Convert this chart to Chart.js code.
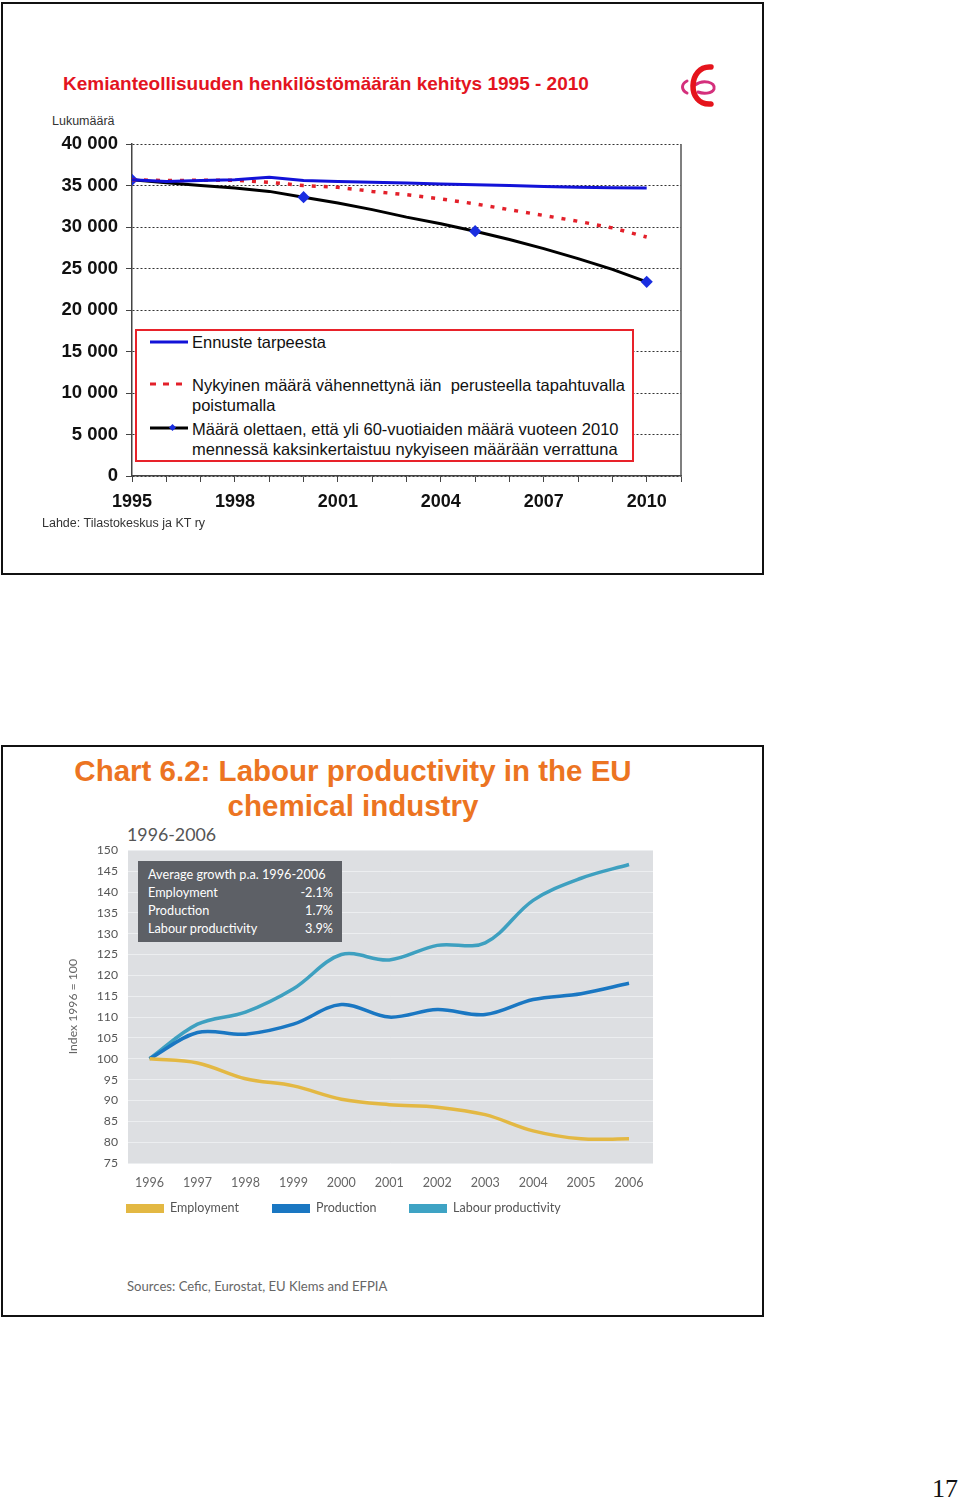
<!DOCTYPE html>
<html>
<head>
<meta charset="utf-8">
<script src="https://cdn.jsdelivr.net/npm/chart.js@4.4.0/dist/chart.umd.min.js"></script>
<style>
body { margin:0; width:960px; height:1501px; background:#fff; position:relative; font-family:"Liberation Sans", Arial, sans-serif; }
.abs { position:absolute; white-space:nowrap; }
.frame { position:absolute; border:2px solid #111; box-sizing:border-box; }
canvas { position:absolute; }
.lato { font-family:Lato, "Open Sans", sans-serif; }
</style>
</head>
<body>

<!-- top slide -->
<div class="frame" style="left:1px;top:2px;width:763px;height:573px;"></div>
<div class="abs" style="left:63px;top:72px;line-height:24px;font-size:19px;font-weight:bold;color:#e3141f;">Kemianteollisuuden henkilöstömäärän kehitys 1995 - 2010</div>
<svg class="abs" style="left:676px;top:62px;" width="46" height="46" viewBox="0 0 46 46">
  <path d="M11 19 C5 22, 5 28, 11 31" fill="none" stroke="#d4307c" stroke-width="3" stroke-linecap="round"/>
  <path d="M19 23 C27 17, 40 20, 38 27 C36 32, 27 32, 22 30" fill="none" stroke="#d4307c" stroke-width="3" stroke-linecap="round"/>
  <path d="M35 5 C12 3, 10 44, 35 42" fill="none" stroke="#e5141c" stroke-width="5.5" stroke-linecap="round"/>
</svg>
<div class="abs" style="left:52px;top:114px;line-height:15px;font-size:12.5px;color:#333;">Lukumäärä</div>
<canvas id="topChart" width="660" height="395" style="left:40px;top:125px;"></canvas>
<div class="abs" style="left:135px;top:329px;width:499px;height:133px;border:2px solid #e8222a;background:#fff;box-sizing:border-box;"></div>
<svg class="abs" style="left:148px;top:330px;" width="44" height="120">
  <line x1="2" y1="12" x2="40" y2="12" stroke="#1212d8" stroke-width="3"/>
  <line x1="2" y1="54" x2="40" y2="54" stroke="#e3202a" stroke-width="3" stroke-dasharray="6,7"/>
  <line x1="2" y1="98" x2="40" y2="98" stroke="#000" stroke-width="3"/>
  <rect x="22" y="95" width="5" height="5" fill="#1a2ee0" transform="rotate(45 24.5 97.5)"/>
</svg>
<div class="abs" style="left:192px;top:332px;line-height:20px;font-size:16.5px;color:#111;">Ennuste tarpeesta</div>
<div class="abs" style="left:192px;top:375px;line-height:20px;font-size:16.5px;color:#111;">Nykyinen määrä vähennettynä iän&nbsp; perusteella tapahtuvalla<br>poistumalla</div>
<div class="abs" style="left:192px;top:419px;line-height:20px;font-size:16.5px;color:#111;">Määrä olettaen, että yli 60-vuotiaiden määrä vuoteen 2010<br>mennessä kaksinkertaistuu nykyiseen määrään verrattuna</div>
<div class="abs" style="left:42px;top:515px;line-height:16px;font-size:12.5px;color:#333;">Lahde: Tilastokeskus ja KT ry</div>

<!-- bottom slide -->
<div class="frame" style="left:1px;top:745px;width:763px;height:572px;"></div>
<div class="abs" style="left:53px;top:753px;width:600px;text-align:center;line-height:35px;font-size:29.5px;font-weight:bold;color:#ec7422;">Chart 6.2: Labour productivity in the EU<br>chemical industry</div>
<div class="abs lato" style="left:127px;top:822px;line-height:24px;font-size:17.8px;color:#555;">1996-2006</div>
<canvas id="bottomChart" width="610" height="367" style="left:60px;top:833px;"></canvas>
<div class="abs lato" style="left:138px;top:861px;width:204px;height:81px;background:#5d6066;color:#fff;font-size:12.7px;line-height:18px;padding:4px 9px 0 10px;box-sizing:border-box;">
  <div>Average growth p.a. 1996-2006</div>
  <div style="display:flex;justify-content:space-between;"><span>Employment</span><span>-2.1%</span></div>
  <div style="display:flex;justify-content:space-between;"><span>Production</span><span>1.7%</span></div>
  <div style="display:flex;justify-content:space-between;"><span>Labour productivity</span><span>3.9%</span></div>
</div>
<div class="abs" style="left:126px;top:1204px;width:38px;height:9px;background:#e3b843;"></div>
<div class="abs lato" style="left:170px;top:1199px;line-height:18px;font-size:12.5px;color:#555;">Employment</div>
<div class="abs" style="left:272px;top:1204px;width:38px;height:9px;background:#1a77c2;"></div>
<div class="abs lato" style="left:316px;top:1199px;line-height:18px;font-size:12.5px;color:#555;">Production</div>
<div class="abs" style="left:409px;top:1204px;width:38px;height:9px;background:#3ea3c4;"></div>
<div class="abs lato" style="left:453px;top:1199px;line-height:18px;font-size:12.5px;color:#555;">Labour productivity</div>
<div class="abs lato" style="left:127px;top:1278px;line-height:16px;font-size:13.1px;color:#666;">Sources: Cefic, Eurostat, EU Klems and EFPIA</div>

<div class="abs" style="left:932px;top:1474px;line-height:30px;font-size:26px;font-family:'Liberation Serif','Times New Roman',serif;color:#111;">17</div>

<script>
// top chart data (Finnish chemical industry personnel)
var topYears = [1995, 1996, 1997, 1998, 1999, 2000, 2001, 2002, 2003, 2004, 2005, 2006, 2007, 2008, 2009, 2010];
var needForecast = [35700, 35500, 35600, 35700, 36000, 35600, 35500, 35400, 35300, 35200, 35100, 35000, 34900, 34800, 34750, 34700];
var ageRetirement = [35700, 35600, 35650, 35650, 35400, 35000, 34800, 34300, 33900, 33400, 32800, 32100, 31400, 30700, 29900, 28800];
var doubledOver60 = [35700, 35350, 35000, 34700, 34300, 33600, 32900, 32100, 31200, 30400, 29500, 28500, 27400, 26200, 24900, 23400];
var topMarkers = [1995, 2000, 2005, 2010];

// bottom chart data (index 1996 = 100)
var euYears = [1996, 1997, 1998, 1999, 2000, 2001, 2002, 2003, 2004, 2005, 2006];
var employment = [100, 99.0, 95.2, 93.5, 90.3, 89.0, 88.4, 86.6, 82.7, 80.8, 80.8];
var production = [100, 106.3, 105.9, 108.3, 113.0, 110.0, 111.8, 110.6, 114.2, 115.6, 118.1];
var labourProductivity = [100, 108.3, 111.2, 116.8, 125.0, 123.7, 127.2, 127.8, 138.0, 143.3, 146.6];

Chart.defaults.font.family = '"Liberation Sans", Arial, sans-serif';

function pairs(xs, ys) {
    return xs.map(function (x, i) { return {x: x, y: ys[i]}; });
}

function spaced(v) {
    return String(v).replace(/\B(?=(\d{3})+(?!\d))/g, ' ');
}

var rightFrame = {
    id: 'rightFrame',
    afterDraw: function (chart) {
        var a = chart.chartArea, ctx = chart.ctx;
        ctx.save();
        ctx.strokeStyle = '#555';
        ctx.lineWidth = 1.5;
        ctx.beginPath();
        ctx.moveTo(a.right, a.top);
        ctx.lineTo(a.right, a.bottom);
        ctx.stroke();
        ctx.restore();
    }
};

new Chart(document.getElementById('topChart').getContext('2d'), {
    type: 'line',
    data: {
        datasets: [{
            label: 'Ennuste tarpeesta',
            data: pairs(topYears, needForecast),
            borderColor: '#1212d8',
            borderWidth: 3,
            pointRadius: 0
        }, {
            label: 'Nykyinen määrä vähennettynä iän perusteella tapahtuvalla poistumalla',
            data: pairs(topYears, ageRetirement),
            borderColor: '#e3202a',
            borderWidth: 3.5,
            borderDash: [4, 8],
            pointRadius: 0
        }, {
            label: 'Määrä olettaen, että yli 60-vuotiaiden määrä vuoteen 2010 mennessä kaksinkertaistuu nykyiseen määrään verrattuna',
            data: pairs(topYears, doubledOver60),
            borderColor: '#000',
            borderWidth: 3,
            pointStyle: 'rectRot',
            pointRadius: topYears.map(function (y) { return topMarkers.indexOf(y) >= 0 ? 4 : 0; }),
            pointBackgroundColor: '#1a2ee0',
            pointBorderColor: '#1a2ee0'
        }]
    },
    options: {
        responsive: false,
        animation: false,
        layout: {padding: {top: 0, right: 19, left: 0, bottom: 0}},
        plugins: {legend: {display: false}, tooltip: {enabled: false}},
        scales: {
            x: {
                type: 'linear',
                min: 1995,
                max: 2011,
                afterFit: function (s) { s.height = 44; },
                ticks: {
                    stepSize: 1,
                    autoSkip: false,
                    maxRotation: 0,
                    padding: 9,
                    color: '#111',
                    font: {size: 18, weight: 'bold'},
                    callback: function (v) { return (v - 1995) % 3 === 0 && v <= 2010 ? String(v) : ''; }
                },
                grid: {drawOnChartArea: false, drawTicks: true, tickLength: 6, color: '#444'},
                border: {color: '#444', width: 1.5}
            },
            y: {
                min: 0,
                max: 40000,
                afterFit: function (s) { s.width = 92; },
                ticks: {
                    stepSize: 5000,
                    padding: 8,
                    color: '#111',
                    font: {size: 18.5, weight: 'bold'},
                    callback: function (v) { return spaced(v); }
                },
                grid: {color: '#333', tickColor: '#444', tickLength: 6, lineWidth: 1},
                border: {color: '#444', width: 1.5, dash: [2, 2]}
            }
        }
    },
    plugins: [rightFrame]
});

var plotBackground = {
    id: 'plotBackground',
    beforeDraw: function (chart) {
        var a = chart.chartArea, ctx = chart.ctx;
        ctx.save();
        ctx.fillStyle = '#dddfe2';
        ctx.fillRect(a.left, a.top, a.right - a.left, a.bottom - a.top);
        ctx.restore();
    }
};

var latoFont = 'Lato, "Open Sans", sans-serif';

new Chart(document.getElementById('bottomChart').getContext('2d'), {
    type: 'line',
    data: {
        datasets: [{
            label: 'Employment',
            data: pairs(euYears, employment),
            borderColor: '#e3b843',
            borderWidth: 3.5,
            pointRadius: 0,
            tension: 0.35
        }, {
            label: 'Production',
            data: pairs(euYears, production),
            borderColor: '#1a77c2',
            borderWidth: 3.5,
            pointRadius: 0,
            tension: 0.35
        }, {
            label: 'Labour productivity',
            data: pairs(euYears, labourProductivity),
            borderColor: '#3ea0c0',
            borderWidth: 3.5,
            pointRadius: 0,
            tension: 0.35
        }]
    },
    options: {
        responsive: false,
        animation: false,
        layout: {padding: {top: 0, right: 17, left: 0, bottom: 0}},
        plugins: {legend: {display: false}, tooltip: {enabled: false}},
        scales: {
            x: {
                type: 'linear',
                min: 1995.55,
                max: 2006.5,
                afterFit: function (s) { s.height = 37; },
                ticks: {
                    stepSize: 1,
                    includeBounds: false,
                    autoSkip: false,
                    maxRotation: 0,
                    padding: 12,
                    color: '#666',
                    font: {family: latoFont, size: 12.5},
                    callback: function (v) { return Number.isInteger(v) ? String(v) : null; }
                },
                grid: {display: false, drawTicks: false},
                border: {display: false}
            },
            y: {
                min: 75,
                max: 150,
                afterFit: function (s) { s.width = 68; },
                title: {
                    display: true,
                    text: 'Index 1996 = 100',
                    color: '#666',
                    padding: {top: 6, bottom: 0},
                    font: {family: latoFont, size: 12.2}
                },
                ticks: {
                    stepSize: 5,
                    padding: 10,
                    color: '#555',
                    font: {family: latoFont, size: 12.2},
                    callback: function (v) { return String(v); }
                },
                grid: {color: '#eceef0', drawTicks: false, lineWidth: 1},
                border: {display: false}
            }
        }
    },
    plugins: [plotBackground]
});
</script>
</body>
</html>
